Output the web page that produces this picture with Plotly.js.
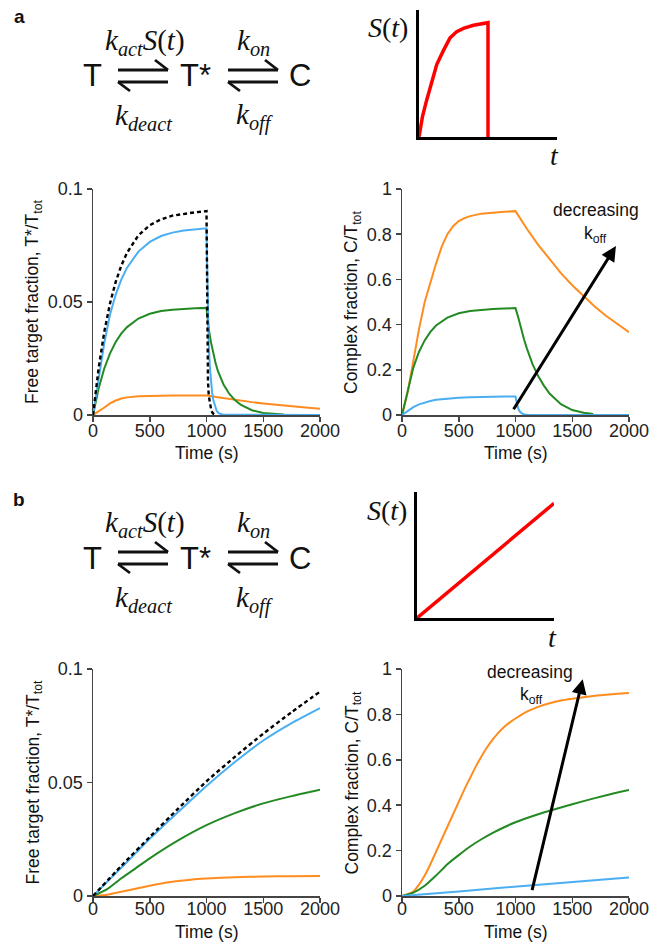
<!DOCTYPE html>
<html><head><meta charset="utf-8">
<script src="https://cdn.plot.ly/plotly-3.0.1.min.js"></script>
<style>html,body{margin:0;padding:0;background:#fff}#chart{width:662px;height:942px}</style>
</head><body><div id="chart"></div>
<script>
// ---------- DATA ----------
// Panel a, left: free target fraction T*/Ttot
const aL_dash_t = [0,50,100,150,200,250,300,400,500,600,700,800,900,1000,1004,1008,1013,1020,1030,1040,1050,1065,1080];
const aL_dash_v = [0,0.0209,0.037,0.0494,0.0589,0.0662,0.0718,0.0795,0.0840,0.0866,0.0882,0.0891,0.0897,0.0902,0.050,0.028,0.015,0.0085,0.005,0.0027,0.0012,0.0003,0];
const aL_blue_t = [0,50,100,150,200,250,300,400,500,600,700,800,900,1000,1005,1010,1015,1020,1030,1040,1050,1060,1075,1090,1110,1150,2000];
const aL_blue_v = [0,0.017,0.032,0.0445,0.0533,0.060,0.0652,0.0723,0.0766,0.0792,0.0807,0.0816,0.0822,0.0826,0.068,0.052,0.040,0.031,0.021,0.0145,0.0098,0.0066,0.0036,0.0018,0.0007,0.0001,0];
const aL_green_t = [0,50,100,150,200,250,300,400,500,600,700,800,900,1000,1010,1020,1040,1060,1080,1100,1150,1200,1250,1300,1400,1500,1600,1680];
const aL_green_v = [0,0.0118,0.0207,0.0273,0.0323,0.0361,0.0389,0.0427,0.0448,0.046,0.0466,0.047,0.0472,0.0474,0.042,0.038,0.032,0.027,0.023,0.0195,0.0135,0.0094,0.0066,0.0046,0.0021,0.0009,0.0004,0.0002];
const aL_orange_t = [0,50,100,150,200,250,300,400,500,600,700,800,900,1000,1100,1200,1300,1400,1500,1600,1700,1800,1900,2000];
const aL_orange_v = [0,0.0015,0.0033,0.0051,0.0064,0.0073,0.0078,0.0083,0.0085,0.0086,0.0086,0.0086,0.0086,0.0086,0.0079,0.0071,0.0064,0.0057,0.0051,0.0045,0.0040,0.0036,0.0032,0.0028];

// Panel a, right: complex fraction C/Ttot
const aR_orange_t = [0,50,100,150,200,250,300,350,400,450,500,550,600,700,800,900,1000,1100,1200,1300,1400,1500,1600,1700,1800,1900,2000];
const aR_orange_v = [0,0.10,0.24,0.38,0.50,0.59,0.67,0.745,0.80,0.835,0.858,0.871,0.88,0.891,0.896,0.899,0.902,0.824,0.753,0.688,0.628,0.574,0.525,0.479,0.438,0.400,0.366];
const aR_green_t = [0,50,100,150,200,250,300,400,500,600,700,800,900,1000,1025,1050,1075,1100,1150,1200,1250,1300,1400,1500,1600,1685];
const aR_green_v = [0,0.11,0.21,0.28,0.33,0.368,0.396,0.431,0.450,0.460,0.466,0.469,0.471,0.473,0.43,0.38,0.335,0.295,0.225,0.172,0.13,0.095,0.048,0.022,0.01,0.005];
const aR_blue_t = [0,50,100,150,200,250,300,400,500,600,700,800,900,1000,1010,1020,1030,1040,1060,1080,1120,2000];
const aR_blue_v = [0,0.018,0.035,0.047,0.056,0.062,0.067,0.073,0.076,0.078,0.080,0.081,0.0815,0.082,0.055,0.035,0.022,0.014,0.006,0.002,0,0];

// Panel b, left
const bL_dash_t = [0,250,500,750,1000,1250,1500,1750,2000];
const bL_dash_v = [0,0.0133,0.026,0.0385,0.0505,0.0613,0.0715,0.081,0.090];
const bL_blue_t = [0,250,500,750,1000,1250,1500,1750,2000];
const bL_blue_v = [0,0.0125,0.0252,0.037,0.0485,0.059,0.0685,0.0762,0.0828];
const bL_green_t = [0,125,250,375,500,750,1000,1250,1500,1750,2000];
const bL_green_v = [0,0.003,0.0078,0.0122,0.0166,0.0245,0.0312,0.0365,0.0408,0.044,0.0468];
const bL_orange_t = [0,125,250,375,500,625,750,875,1000,1250,1500,1750,2000];
const bL_orange_v = [0,0.0006,0.0019,0.0032,0.0045,0.0057,0.0066,0.0073,0.0077,0.0083,0.0086,0.0087,0.0088];

// Panel b, right
const bR_orange_t = [0,100,150,200,250,300,350,400,450,500,550,600,650,700,750,800,850,900,950,1000,1100,1200,1300,1400,1500,1600,1700,1800,1900,2000];
const bR_orange_v = [0,0.02,0.05,0.09,0.14,0.195,0.25,0.305,0.36,0.415,0.47,0.52,0.57,0.615,0.655,0.69,0.72,0.745,0.765,0.782,0.812,0.833,0.849,0.861,0.869,0.876,0.882,0.887,0.891,0.894];
const bR_green_t = [0,100,200,300,400,500,600,700,800,900,1000,1200,1400,1600,1800,2000];
const bR_green_v = [0,0.015,0.045,0.09,0.14,0.18,0.218,0.25,0.278,0.303,0.325,0.36,0.39,0.418,0.444,0.467];
const bR_blue_t = [0,250,500,750,1000,1250,1500,1750,2000];
const bR_blue_v = [0,0.009,0.02,0.031,0.042,0.052,0.062,0.072,0.082];

// Stimulus insets S(t)
const sA_t = [0,25,50,111,160,257,353,450,547,644,789,1000,1000];
const sA_v = [0,0.09,0.16,0.29,0.39,0.57,0.68,0.78,0.83,0.855,0.88,0.9,0];
const sB_t = [0,2000];
const sB_v = [0,0.91];

// Tick labels
const xTicks = [0,500,1000,1500,2000];
const xTickText = ['0','500','1000','1500','2000'];
const yTicksT = [0,0.05,0.1];
const yTickTextT = ['0','0.05','0.1'];
const yTicksC = [0,0.2,0.4,0.6,0.8,1];
const yTickTextC = ['0','0.2','0.4','0.6','0.8','1'];

// "decreasing k_off" arrows: [tail t, tail v, head t, head v]
const arrowA = [975,0.019,1885,0.748];
const arrowB = [1143,0.019,1592,0.955];

// ---------- LAYOUT ----------
const W=662,H=942;
const px = x => x/W;
const py = y => 1-y/H;

const BLUE='#4aaef2', GREEN='#238a23', ORANGE='#ff8c1f', RED='#ff0000';
const SANS='Liberation Sans, Arial, sans-serif';
const SERIF='Liberation Serif, Times New Roman, serif';

function line(t,v,color,xa,ya,dash,shape){
  return {x:t,y:v,type:'scatter',mode:'lines',xaxis:xa,yaxis:ya,hoverinfo:'skip',
    line:{color:color,width:dash?2.4:2,dash:dash||'solid',shape:shape||'linear',smoothing:0.6}};
}
const data=[
  line(aL_orange_t,aL_orange_v,ORANGE,'x','y'),
  line(aL_green_t,aL_green_v,GREEN,'x','y'),
  line(aL_blue_t,aL_blue_v,BLUE,'x','y'),
  line(aL_dash_t,aL_dash_v,'#000','x','y','4px,3px'),
  line(aR_orange_t,aR_orange_v,ORANGE,'x2','y2'),
  line(aR_green_t,aR_green_v,GREEN,'x2','y2'),
  line(aR_blue_t,aR_blue_v,BLUE,'x2','y2'),
  line(bL_orange_t,bL_orange_v,ORANGE,'x3','y3',null,'spline'),
  line(bL_green_t,bL_green_v,GREEN,'x3','y3',null,'spline'),
  line(bL_blue_t,bL_blue_v,BLUE,'x3','y3',null,'spline'),
  line(bL_dash_t,bL_dash_v,'#000','x3','y3','4px,3px','spline'),
  line(bR_orange_t,bR_orange_v,ORANGE,'x4','y4',null,'spline'),
  line(bR_green_t,bR_green_v,GREEN,'x4','y4',null,'spline'),
  line(bR_blue_t,bR_blue_v,BLUE,'x4','y4'),
  {x:sA_t,y:sA_v,type:'scatter',mode:'lines',xaxis:'x5',yaxis:'y5',hoverinfo:'skip',line:{color:RED,width:3.5}},
  {x:sB_t,y:sB_v,type:'scatter',mode:'lines',xaxis:'x6',yaxis:'y6',hoverinfo:'skip',line:{color:RED,width:3.5}}
];

const common={showline:true,linecolor:'#444',linewidth:1.5,ticks:'outside',ticklen:5,tickwidth:1.5,tickcolor:'#444',
  showgrid:false,zeroline:false,tickfont:{family:SANS,size:18,color:'#222'},fixedrange:true};
function xax(x0,x1,y,so){return Object.assign({},common,{domain:[px(x0),px(x1)],range:[0,2000],tickvals:xTicks,ticktext:xTickText,anchor:y,ticklabelstandoff:so});}
function yax(y0,y1,x,tv,tt,r){return Object.assign({},common,{domain:[py(y1),py(y0)],range:r,tickvals:tv,ticktext:tt,anchor:x});}
function inset(d,r,anchor){return {domain:d,range:r,anchor:anchor,showline:true,linecolor:'#000',linewidth:3,ticks:'',showticklabels:false,showgrid:false,zeroline:false,fixedrange:true};}

const layout={
  width:W,height:H,margin:{l:0,r:0,t:0,b:0},paper_bgcolor:'#fff',plot_bgcolor:'rgba(0,0,0,0)',showlegend:false,
  font:{family:SANS,color:'#222'},
  xaxis:xax(93,320,'y',-6), yaxis:yax(189,415,'x',yTicksT,yTickTextT,[0,0.1]),
  xaxis2:xax(402,629,'y2',-6), yaxis2:yax(189,415,'x2',yTicksC,yTickTextC,[0,1]),
  xaxis3:xax(93,320,'y3',-9), yaxis3:yax(669,896,'x3',yTicksT,yTickTextT,[0,0.1]),
  xaxis4:xax(402,629,'y4',-9), yaxis4:yax(669,896,'x4',yTicksC,yTickTextC,[0,1]),
  xaxis5:inset([px(419),px(557)],[0,2000],'y5'), yaxis5:inset([py(137),py(10)],[0,1],'x5'),
  xaxis6:inset([px(417),px(554)],[0,2000],'y6'), yaxis6:inset([py(618),py(492)],[0,1],'x6'),
  shapes:[], annotations:[]
};

function txt(x,y,text,size,family,extra){
  return Object.assign({xref:'paper',yref:'paper',x:px(x),y:py(y),text:text,showarrow:false,xanchor:'center',yanchor:'middle',
    font:{family:family||SANS,size:size,color:'#111'}},extra||{});
}
function seg(x0,y0,x1,y1){return {type:'line',xref:'paper',yref:'paper',x0:px(x0),y0:py(y0),x1:px(x1),y1:py(y1),line:{color:'#111',width:2.8}};}

function scheme(dy,letter){
  const A=layout.annotations,S=layout.shapes;
  A.push(txt(19,17+dy,'<b>'+letter+'</b>',19,SANS,{font:{family:SANS,size:19,color:'#111'}}));
  A.push(txt(92.5,76+dy,'T',31));
  A.push(txt(196,76+dy,'T*',31));
  A.push(txt(300,76+dy,'C',31));
  A.push(txt(145,42+dy,'<i>k<sub>act</sub>S</i>(<i>t</i>)',29,SERIF));
  A.push(txt(253,42+dy,'<i>k<sub>on</sub></i>',29,SERIF));
  A.push(txt(144,117+dy,'<i>k<sub>deact</sub></i>',29,SERIF));
  A.push(txt(254,117+dy,'<i>k<sub>off</sub></i>',29,SERIF));
  [[118,168],[228,278]].forEach(([a,b])=>{
    S.push(seg(a,70+dy,b,70+dy)); S.push(seg(b,70+dy,b-13,60+dy));
    S.push(seg(a,82+dy,b,82+dy)); S.push(seg(a,82+dy,a+12,91+dy));
  });
}
scheme(0,'a'); scheme(482,'b');

const A=layout.annotations;
// inset labels
A.push(txt(388,28,'<i>S</i>(<i>t</i>)',28,SERIF));
A.push(txt(554,156,'<i>t</i>',28,SERIF));
A.push(txt(387,510,'<i>S</i>(<i>t</i>)',28,SERIF));
A.push(txt(552,637,'<i>t</i>',28,SERIF));
// axis titles
[[453],[932]].forEach(([y])=>{
  A.push(txt(206.5,y,'Time (s)',17.5));
  A.push(txt(516,y,'Time (s)',17.5));
});
A.push(txt(34,302,'Free target fraction, T*/T<sub>tot</sub>',17.5,SANS,{textangle:-90}));
A.push(txt(353,302,'Complex fraction, C/T<sub>tot</sub>',17.5,SANS,{textangle:-90}));
A.push(txt(34,782.5,'Free target fraction, T*/T<sub>tot</sub>',17.5,SANS,{textangle:-90}));
A.push(txt(353,782.5,'Complex fraction, C/T<sub>tot</sub>',17.5,SANS,{textangle:-90}));

// arrows + labels
function arrow(ax,ay,arr){
  A.push({xref:ax,yref:ay,axref:ax,ayref:ay,x:arr[2],y:arr[3],ax:arr[0],ay:arr[1],text:'',showarrow:true,
    arrowhead:2,arrowsize:1,arrowwidth:3,arrowcolor:'#000',standoff:0,startstandoff:0});
}
arrow('x2','y2',arrowA);
arrow('x4','y4',arrowB);
A.push({xref:'x2',yref:'y2',x:1705,y:0.907,text:'decreasing',showarrow:false,font:{family:SANS,size:17.5,color:'#111'}});
A.push({xref:'x2',yref:'y2',x:1705,y:0.80,text:'k<sub>off</sub>',showarrow:false,font:{family:SANS,size:17.5,color:'#111'}});
A.push({xref:'x4',yref:'y4',x:1128,y:0.988,text:'decreasing',showarrow:false,font:{family:SANS,size:17.5,color:'#111'}});
A.push({xref:'x4',yref:'y4',x:1140,y:0.885,text:'k<sub>off</sub>',showarrow:false,font:{family:SANS,size:17.5,color:'#111'}});

Plotly.newPlot('chart',data,layout,{staticPlot:true,displayModeBar:false});
</script></body></html>
